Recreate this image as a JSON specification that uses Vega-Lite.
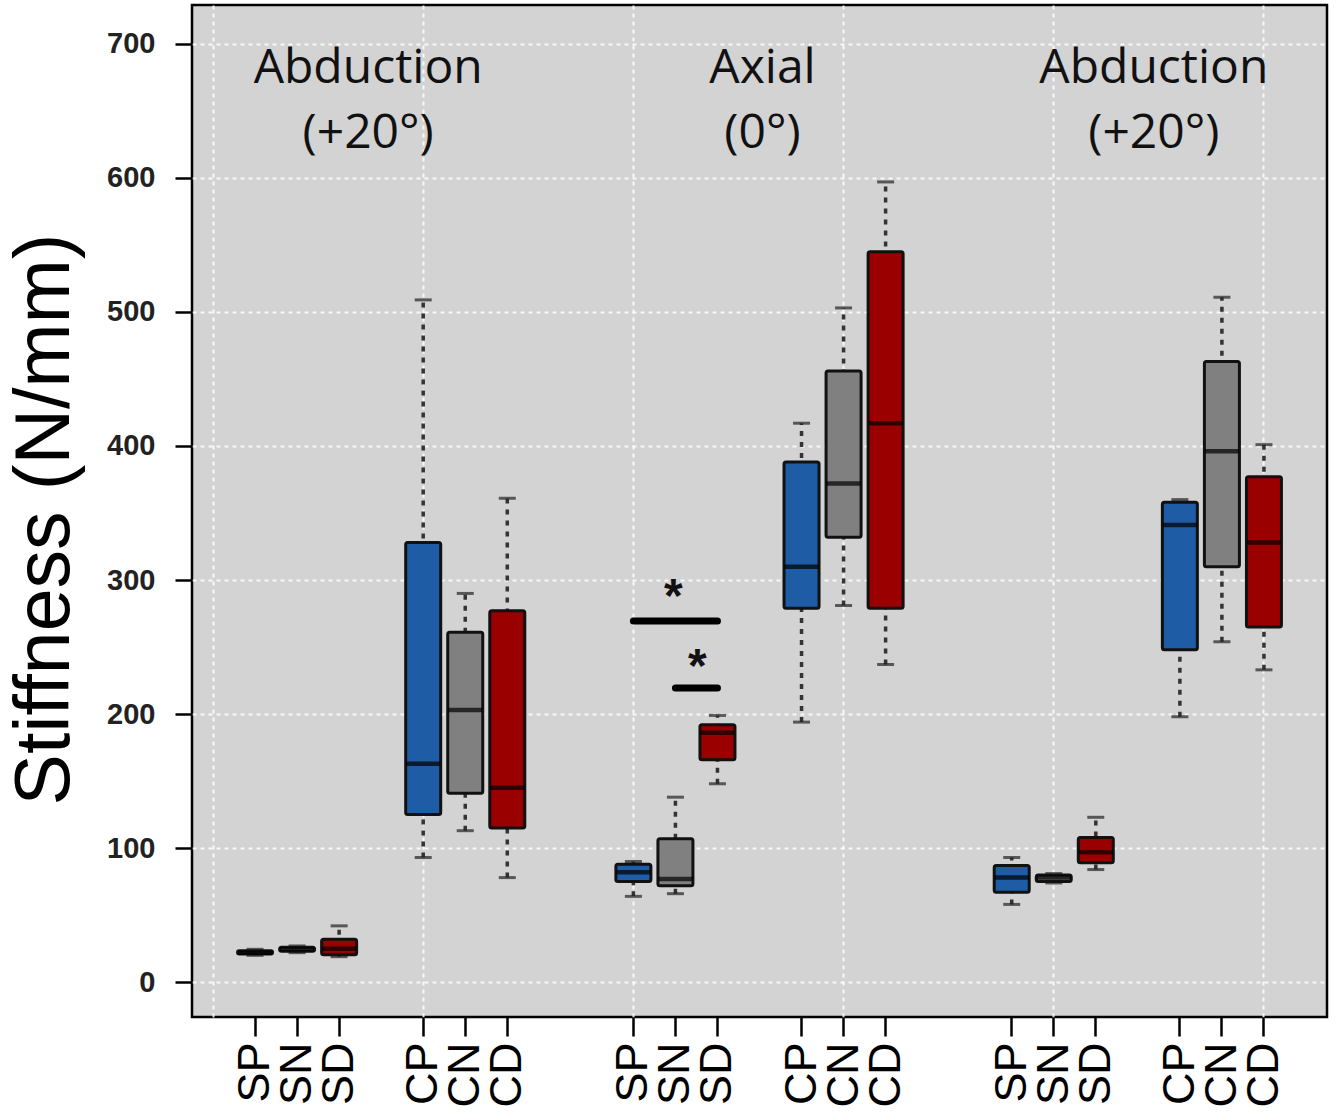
{
  "$schema": "https://vega.github.io/schema/vega-lite/v6.json",
  "width": 1135,
  "height": 1012,
  "autosize": {"type": "none"},
  "padding": {"left": 192, "top": 5, "right": 14, "bottom": 103},
  "background": "white",
  "config": {"view": {"fill": "#d3d3d3", "stroke": "black", "strokeWidth": 2.5}},
  "datasets": {
    "boxes": [
      {"key": "A_SP", "test": "Abduction (+20°)", "type": "SP", "variant": "P", "min": 20, "q1": 21, "median": 22, "q3": 23.5, "max": 24.5},
      {"key": "A_SN", "test": "Abduction (+20°)", "type": "SN", "variant": "N", "min": 22, "q1": 23, "median": 24.5, "q3": 26, "max": 27},
      {"key": "A_SD", "test": "Abduction (+20°)", "type": "SD", "variant": "D", "min": 19, "q1": 20.5, "median": 25, "q3": 32, "max": 42},
      {"key": "A_CP", "test": "Abduction (+20°)", "type": "CP", "variant": "P", "min": 93, "q1": 125, "median": 163, "q3": 328, "max": 509},
      {"key": "A_CN", "test": "Abduction (+20°)", "type": "CN", "variant": "N", "min": 113, "q1": 141, "median": 203, "q3": 261, "max": 290},
      {"key": "A_CD", "test": "Abduction (+20°)", "type": "CD", "variant": "D", "min": 78, "q1": 115, "median": 145, "q3": 277, "max": 361},
      {"key": "B_SP", "test": "Axial (0°)", "type": "SP", "variant": "P", "min": 64, "q1": 75, "median": 82, "q3": 88, "max": 90},
      {"key": "B_SN", "test": "Axial (0°)", "type": "SN", "variant": "N", "min": 66, "q1": 72, "median": 77, "q3": 107, "max": 138},
      {"key": "B_SD", "test": "Axial (0°)", "type": "SD", "variant": "D", "min": 148, "q1": 166, "median": 186, "q3": 192, "max": 199},
      {"key": "B_CP", "test": "Axial (0°)", "type": "CP", "variant": "P", "min": 194, "q1": 279, "median": 310, "q3": 388, "max": 417},
      {"key": "B_CN", "test": "Axial (0°)", "type": "CN", "variant": "N", "min": 281, "q1": 332, "median": 372, "q3": 456, "max": 503},
      {"key": "B_CD", "test": "Axial (0°)", "type": "CD", "variant": "D", "min": 237, "q1": 279, "median": 417, "q3": 545, "max": 597},
      {"key": "C_SP", "test": "Abduction (+20°) 2", "type": "SP", "variant": "P", "min": 58, "q1": 67, "median": 78, "q3": 87, "max": 93},
      {"key": "C_SN", "test": "Abduction (+20°) 2", "type": "SN", "variant": "N", "min": 74, "q1": 75, "median": 78, "q3": 80, "max": 81},
      {"key": "C_SD", "test": "Abduction (+20°) 2", "type": "SD", "variant": "D", "min": 84, "q1": 89, "median": 97, "q3": 108, "max": 123},
      {"key": "C_CP", "test": "Abduction (+20°) 2", "type": "CP", "variant": "P", "min": 198, "q1": 248, "median": 341, "q3": 358, "max": 360},
      {"key": "C_CN", "test": "Abduction (+20°) 2", "type": "CN", "variant": "N", "min": 254, "q1": 310, "median": 396, "q3": 463, "max": 511},
      {"key": "C_CD", "test": "Abduction (+20°) 2", "type": "CD", "variant": "D", "min": 233, "q1": 265, "median": 328, "q3": 377, "max": 401}
    ]
  },
  "layer": [
    {
      "data": {"name": "boxes"},
      "mark": {"type": "rule", "stroke": "#333333", "strokeWidth": 3.5, "strokeDash": [5, 6]},
      "encoding": {
        "x": {
          "field": "key", "type": "nominal",
          "scale": {"domain": ["g0","A_SP","A_SN","A_SD","g4","A_CP","A_CN","A_CD","g8","g9","B_SP","B_SN","B_SD","g13","B_CP","B_CN","B_CD","g17","g18","C_SP","C_SN","C_SD","g22","C_CP","C_CN","C_CD","g26"], "paddingInner": 0, "paddingOuter": 0},
          "axis": {
            "title": null,
            "labelExpr": "indexof(datum.value,'_') > 0 ? split(datum.value,'_')[1] : ''",
            "labelAngle": -90,
            "labelFont": "Liberation Sans",
            "labelFontSize": 45,
            "labelColor": "black",
            "labelPadding": 6,
            "labelOverlap": false,
            "labelBound": false,
            "labelFlush": false,
            "ticks": true,
            "tickSize": 19,
            "tickWidth": 2.5,
            "tickColor": "black",
            "tickOpacity": {"condition": {"test": "indexof(datum.value,'_') < 0", "value": 0}, "value": 1},
            "domain": false,
            "grid": true,
            "gridColor": "white",
            "gridDash": [4, 4],
            "gridWidth": 2,
            "gridOpacity": {"condition": {"test": "indexof(['g0','A_CP','B_SP','B_CN','C_SN','C_CD'], datum.value) >= 0", "value": 0.85}, "value": 0},
            "bandPosition": 0.5
          }
        },
        "y": {
          "field": "min", "type": "quantitative",
          "scale": {"domain": [-26, 729], "nice": false, "zero": false},
          "axis": {
            "title": "Stiffness (N/mm)",
            "values": [0, 100, 200, 300, 400, 500, 600, 700],
            "grid": true,
            "gridColor": "white",
            "gridDash": [4, 4],
            "gridWidth": 2,
            "gridOpacity": 0.85,
            "domain": false,
            "ticks": true,
            "tickSize": 17,
            "tickWidth": 2.5,
            "tickColor": "black",
            "labelFont": "Liberation Sans",
            "labelFontSize": 29,
            "labelFontWeight": "bold",
            "labelColor": "#222222",
            "labelPadding": 20,
            "titleFont": "Liberation Sans",
            "titleFontSize": 77,
            "titleFontWeight": "normal",
            "titleColor": "black",
            "titleX": -147,
            "titleY": 514,
            "titleAngle": -90,
            "titleAlign": "center",
            "titleBaseline": "middle"
          }
        },
        "y2": {"field": "max"}
      }
    },
    {
      "data": {"name": "boxes"},
      "mark": {"type": "tick", "color": "#222222", "size": 17, "thickness": 3},
      "encoding": {
        "x": {"field": "key", "type": "nominal", "scale": {"domain": ["g0","A_SP","A_SN","A_SD","g4","A_CP","A_CN","A_CD","g8","g9","B_SP","B_SN","B_SD","g13","B_CP","B_CN","B_CD","g17","g18","C_SP","C_SN","C_SD","g22","C_CP","C_CN","C_CD","g26"], "paddingInner": 0, "paddingOuter": 0}},
        "y": {"field": "max", "type": "quantitative", "scale": {"domain": [-26, 729], "nice": false, "zero": false}}
      }
    },
    {
      "data": {"name": "boxes"},
      "mark": {"type": "tick", "color": "#222222", "size": 17, "thickness": 3},
      "encoding": {
        "x": {"field": "key", "type": "nominal", "scale": {"domain": ["g0","A_SP","A_SN","A_SD","g4","A_CP","A_CN","A_CD","g8","g9","B_SP","B_SN","B_SD","g13","B_CP","B_CN","B_CD","g17","g18","C_SP","C_SN","C_SD","g22","C_CP","C_CN","C_CD","g26"], "paddingInner": 0, "paddingOuter": 0}},
        "y": {"field": "min", "type": "quantitative", "scale": {"domain": [-26, 729], "nice": false, "zero": false}}
      }
    },
    {
      "data": {"name": "boxes"},
      "mark": {"type": "bar", "width": 35, "stroke": "#111111", "strokeWidth": 3, "cornerRadius": 2},
      "encoding": {
        "x": {"field": "key", "type": "nominal", "scale": {"domain": ["g0","A_SP","A_SN","A_SD","g4","A_CP","A_CN","A_CD","g8","g9","B_SP","B_SN","B_SD","g13","B_CP","B_CN","B_CD","g17","g18","C_SP","C_SN","C_SD","g22","C_CP","C_CN","C_CD","g26"], "paddingInner": 0, "paddingOuter": 0}},
        "y": {"field": "q1", "type": "quantitative", "scale": {"domain": [-26, 729], "nice": false, "zero": false}},
        "y2": {"field": "q3"},
        "color": {"field": "variant", "type": "nominal", "scale": {"domain": ["P", "N", "D"], "range": ["#1f5ca6", "#808080", "#9a0000"]}, "legend": null}
      }
    },
    {
      "data": {"name": "boxes"},
      "mark": {"type": "tick", "color": "#000000", "size": 34, "thickness": 4.5},
      "encoding": {
        "x": {"field": "key", "type": "nominal", "scale": {"domain": ["g0","A_SP","A_SN","A_SD","g4","A_CP","A_CN","A_CD","g8","g9","B_SP","B_SN","B_SD","g13","B_CP","B_CN","B_CD","g17","g18","C_SP","C_SN","C_SD","g22","C_CP","C_CN","C_CD","g26"], "paddingInner": 0, "paddingOuter": 0}},
        "y": {"field": "median", "type": "quantitative", "scale": {"domain": [-26, 729], "nice": false, "zero": false}}
      }
    },
    {
      "data": {"values": [{"from": "B_SP", "to": "B_SD", "level": 269.4}, {"from": "B_SN", "to": "B_SD", "level": 219.4}]},
      "mark": {"type": "rule", "color": "black", "strokeWidth": 7, "strokeCap": "round"},
      "encoding": {
        "x": {"field": "from", "type": "nominal", "scale": {"domain": ["g0","A_SP","A_SN","A_SD","g4","A_CP","A_CN","A_CD","g8","g9","B_SP","B_SN","B_SD","g13","B_CP","B_CN","B_CD","g17","g18","C_SP","C_SN","C_SD","g22","C_CP","C_CN","C_CD","g26"], "paddingInner": 0, "paddingOuter": 0}},
        "x2": {"field": "to"},
        "y": {"field": "level", "type": "quantitative", "scale": {"domain": [-26, 729], "nice": false, "zero": false}}
      }
    },
    {
      "data": {"values": [{"key": "B_SN", "level": 294.7, "mark": "*"}]},
      "mark": {"type": "text", "font": "Liberation Sans", "fontSize": 48, "fontWeight": "bold", "color": "#111111", "baseline": "middle", "align": "center", "dx": -2, "dy": 11},
      "encoding": {
        "x": {"field": "key", "type": "nominal", "scale": {"domain": ["g0","A_SP","A_SN","A_SD","g4","A_CP","A_CN","A_CD","g8","g9","B_SP","B_SN","B_SD","g13","B_CP","B_CN","B_CD","g17","g18","C_SP","C_SN","C_SD","g22","C_CP","C_CN","C_CD","g26"], "paddingInner": 0, "paddingOuter": 0}},
        "y": {"field": "level", "type": "quantitative", "scale": {"domain": [-26, 729], "nice": false, "zero": false}},
        "text": {"field": "mark"}
      }
    },
    {
      "data": {"values": [{"key": "B_SD", "level": 242.5, "mark": "*"}]},
      "mark": {"type": "text", "font": "Liberation Sans", "fontSize": 48, "fontWeight": "bold", "color": "#111111", "baseline": "middle", "align": "center", "dx": -20, "dy": 11},
      "encoding": {
        "x": {"field": "key", "type": "nominal", "scale": {"domain": ["g0","A_SP","A_SN","A_SD","g4","A_CP","A_CN","A_CD","g8","g9","B_SP","B_SN","B_SD","g13","B_CP","B_CN","B_CD","g17","g18","C_SP","C_SN","C_SD","g22","C_CP","C_CN","C_CD","g26"], "paddingInner": 0, "paddingOuter": 0}},
        "y": {"field": "level", "type": "quantitative", "scale": {"domain": [-26, 729], "nice": false, "zero": false}},
        "text": {"field": "mark"}
      }
    },
    {
      "data": {"values": [{"key": "g4", "level": 670.8, "label": "Abduction\n(+20°)"}]},
      "mark": {"type": "text", "font": "Open Sans", "fontSize": 48, "color": "#111111", "baseline": "alphabetic", "align": "center", "lineBreak": "\n", "lineHeight": 65, "dx": -13},
      "encoding": {
        "x": {"field": "key", "type": "nominal", "scale": {"domain": ["g0","A_SP","A_SN","A_SD","g4","A_CP","A_CN","A_CD","g8","g9","B_SP","B_SN","B_SD","g13","B_CP","B_CN","B_CD","g17","g18","C_SP","C_SN","C_SD","g22","C_CP","C_CN","C_CD","g26"], "paddingInner": 0, "paddingOuter": 0}},
        "y": {"field": "level", "type": "quantitative", "scale": {"domain": [-26, 729], "nice": false, "zero": false}},
        "text": {"field": "label"}
      }
    },
    {
      "data": {"values": [{"key": "g13", "level": 670.8, "label": "Axial\n(0°)"}]},
      "mark": {"type": "text", "font": "Open Sans", "fontSize": 48, "color": "#111111", "baseline": "alphabetic", "align": "center", "lineBreak": "\n", "lineHeight": 65, "dx": 3},
      "encoding": {
        "x": {"field": "key", "type": "nominal", "scale": {"domain": ["g0","A_SP","A_SN","A_SD","g4","A_CP","A_CN","A_CD","g8","g9","B_SP","B_SN","B_SD","g13","B_CP","B_CN","B_CD","g17","g18","C_SP","C_SN","C_SD","g22","C_CP","C_CN","C_CD","g26"], "paddingInner": 0, "paddingOuter": 0}},
        "y": {"field": "level", "type": "quantitative", "scale": {"domain": [-26, 729], "nice": false, "zero": false}},
        "text": {"field": "label"}
      }
    },
    {
      "data": {"values": [{"key": "g22", "level": 670.8, "label": "Abduction\n(+20°)"}]},
      "mark": {"type": "text", "font": "Open Sans", "fontSize": 48, "color": "#111111", "baseline": "alphabetic", "align": "center", "lineBreak": "\n", "lineHeight": 65, "dx": 16},
      "encoding": {
        "x": {"field": "key", "type": "nominal", "scale": {"domain": ["g0","A_SP","A_SN","A_SD","g4","A_CP","A_CN","A_CD","g8","g9","B_SP","B_SN","B_SD","g13","B_CP","B_CN","B_CD","g17","g18","C_SP","C_SN","C_SD","g22","C_CP","C_CN","C_CD","g26"], "paddingInner": 0, "paddingOuter": 0}},
        "y": {"field": "level", "type": "quantitative", "scale": {"domain": [-26, 729], "nice": false, "zero": false}},
        "text": {"field": "label"}
      }
    }
  ]
}
